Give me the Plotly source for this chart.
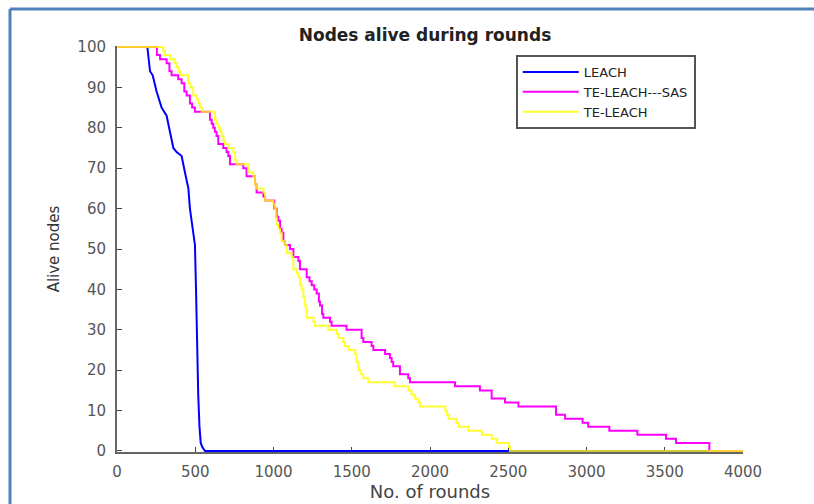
import plotly.graph_objects as go

# ---------------- data ----------------
leach_rounds = [0, 194, 211, 228, 253, 285, 317, 339, 360, 381, 413, 434, 456, 466,
                480, 498, 505, 512, 519, 527, 535, 545, 562, 4000]
leach_alive = [100, 100, 94, 93, 89, 85, 83, 79, 75, 74, 73, 69, 65, 60,
               56, 51, 40, 25, 14, 6, 2, 1, 0, 0]

sas_rounds = [0, 255, 275, 317, 335, 349, 391, 413, 430, 445, 466, 480, 498, 594, 605,
              615, 625, 636, 647, 679, 700, 711, 722, 807, 828, 882, 892, 935, 946, 1005,
              1020, 1031, 1042, 1052, 1063, 1073, 1105, 1127, 1159, 1169, 1212, 1230, 1244,
              1260, 1276, 1290, 1297, 1310, 1318, 1361, 1371, 1467, 1563, 1574, 1627, 1638,
              1713, 1744, 1755, 1765, 1808, 1861, 1872, 2160, 2319, 2394, 2479, 2565, 2805,
              2863, 2975, 3011, 3146, 3325, 3508, 3572, 3785, 4000]
sas_alive = [100, 98, 97, 96, 94, 93, 92, 91, 89, 88, 86, 85, 84, 82, 81,
             80, 79, 78, 76, 75, 74, 73, 71, 70, 68, 66, 64, 63, 62, 60,
             58, 57, 55, 54, 52, 51, 50, 48, 47, 45, 43, 42, 41,
             40, 39, 37, 36, 34, 33, 32, 31, 30, 28, 27, 26, 25,
             24, 23, 22, 21, 19, 18, 17, 16, 15, 13, 12, 11, 9,
             8, 7, 6, 5, 4, 3, 2, 0, 0]

te_rounds = [0, 296, 307, 339, 370, 381, 395, 403, 455, 470, 487, 509, 519, 530, 541,
             626, 636, 647, 658, 668, 680, 690, 711, 743, 755, 764, 839, 871, 882, 892,
             935, 946, 999, 1010, 1015, 1020, 1031, 1042, 1052, 1073, 1084, 1116, 1127,
             1148, 1160, 1169, 1180, 1191, 1201, 1207, 1212, 1255, 1265, 1351, 1404, 1414,
             1446, 1457, 1480, 1521, 1530, 1542, 1560, 1574, 1606, 1776, 1861, 1882, 1904,
             1925, 1936, 2097, 2108, 2118, 2170, 2181, 2245, 2331, 2394, 2426, 2505, 2511, 4000]
te_alive = [100, 99, 98, 97, 96, 95, 94, 93, 91, 90, 88, 87, 86, 85, 84,
            82, 81, 80, 79, 78, 77, 76, 75, 74, 72, 71, 69, 68, 66, 65,
            64, 62, 61, 60, 58, 56, 55, 54, 52, 51, 49, 48, 45,
            44, 43, 41, 40, 38, 36, 35, 33, 32, 31, 30, 29, 28,
            27, 26, 25, 24, 22, 20, 19, 18, 17, 16, 15, 14, 13,
            12, 11, 10, 9, 8, 7, 6, 5, 4, 3, 2, 1, 0, 0]

x_ticks = [0, 500, 1000, 1500, 2000, 2500, 3000, 3500, 4000]
y_ticks = [0, 10, 20, 30, 40, 50, 60, 70, 80, 90, 100]

FONT = "DejaVu Sans, Verdana, sans-serif"

fig = go.Figure()
fig.add_trace(go.Scatter(x=leach_rounds, y=leach_alive, mode="lines", name="LEACH",
                         line=dict(color="#0000FF", width=2)))
fig.add_trace(go.Scatter(x=sas_rounds, y=sas_alive, mode="lines", name="TE-LEACH---SAS",
                         line=dict(color="#FF00FF", width=2, shape="hv")))
fig.add_trace(go.Scatter(x=te_rounds, y=te_alive, mode="lines", name="TE-LEACH",
                         line=dict(color="#FFFF00", width=2, shape="hv"), opacity=0.8))

axis_common = dict(showgrid=False, zeroline=False, showline=True, linecolor="#666666",
                   linewidth=2, ticks="inside", ticklen=5, tickcolor="#444444", tickwidth=1,
                   layer="below traces", automargin=False,
                   tickfont=dict(family=FONT, size=15, color="#555555"))

fig.update_layout(
    width=814, height=504,
    margin=dict(l=117, r=71, t=46, b=52),
    paper_bgcolor="white", plot_bgcolor="white",
    title=dict(text="<b>Nodes alive during rounds</b>", x=0.492, xref="paper", xanchor="center",
               y=1 - 35 / 504, yref="container", yanchor="middle",
               font=dict(family=FONT, size=17, color="#222222")),
    xaxis=dict(range=[0, 4000], tickvals=x_ticks, ticklabelstandoff=5, **axis_common,
               title=dict(text="No. of rounds", font=dict(family=FONT, size=18, color="#444444"),
                          standoff=2)),
    yaxis=dict(range=[-0.25, 100.25], tickvals=y_ticks, ticklabelstandoff=6, **axis_common,
               title=dict(text="Alive nodes", font=dict(family=FONT, size=15, color="#333333"),
                          standoff=14)),
    legend=dict(x=0.637, y=0.978, xanchor="left", yanchor="top", bgcolor="white",
                bordercolor="#555555", borderwidth=2, itemwidth=56,
                font=dict(family=FONT, size=13, color="#222222"), tracegroupgap=0),
    showlegend=True,
)

# image frame (blue border at top and left)
fig.add_shape(type="line", xref="paper", yref="paper",
              x0=(10 - 117) / 626, x1=(816 - 117) / 626,
              y0=(452 - 9) / 406, y1=(452 - 9) / 406,
              line=dict(color="#4F81BD", width=3))
fig.add_shape(type="line", xref="paper", yref="paper",
              x0=(10 - 117) / 626, x1=(10 - 117) / 626,
              y0=(452 - 9) / 406, y1=(452 - 506) / 406,
              line=dict(color="#4F81BD", width=3))

fig.write_html("out.html")
